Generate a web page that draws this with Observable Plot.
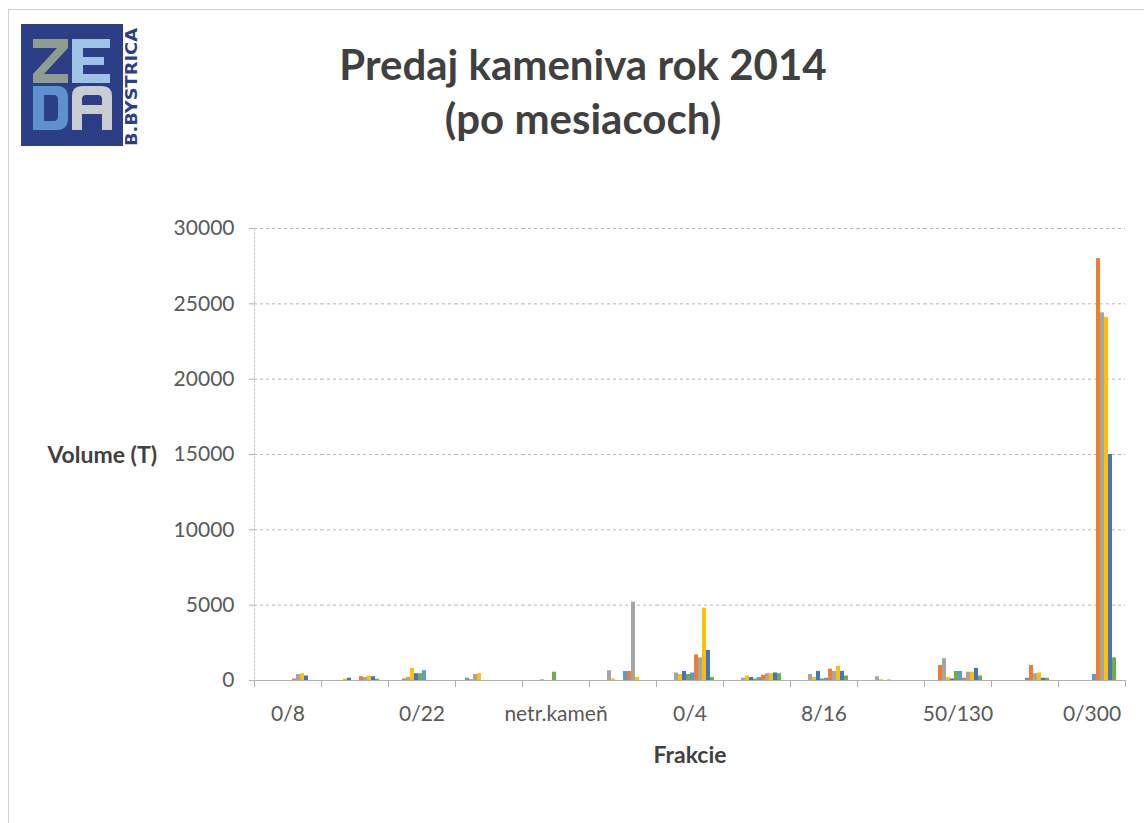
<!DOCTYPE html>
<html>
<head>
<meta charset="utf-8">
<script src="https://cdn.jsdelivr.net/npm/d3@7"></script>
<script src="https://cdn.jsdelivr.net/npm/@observablehq/plot@0.6"></script>
<style>
  html, body { margin: 0; padding: 0; background: #fff; }
  #page { position: relative; width: 1144px; height: 823px; overflow: hidden; background: #fff; font-family: Lato, "Open Sans", sans-serif; }
  #border { position: absolute; left: 8px; top: 9px; width: 1160px; height: 840px; border: 1px solid #d2d2d2; }
  #title { position: absolute; left: 11px; top: 37px; width: 1144px; text-align: center; font-weight: bold; font-size: 42px; line-height: 54px; color: #404040; }
  #ylabel { position: absolute; left: 0; width: 157px; top: 440px; text-align: right; font-weight: bold; font-size: 23px; color: #404040; }
  #xlabel { position: absolute; left: 590px; width: 200px; top: 740px; text-align: center; font-weight: bold; font-size: 23px; color: #404040; }
  #chart { position: absolute; left: 0; top: 200px; }
  #logo { position: absolute; left: 21px; top: 24px; }
</style>
</head>
<body>
<div id="page">
  <div id="border"></div>
  <svg id="logo" width="120" height="124" viewBox="0 0 120 124">
    <rect x="0" y="0" width="102" height="122" fill="#2c3f86"></rect>
    <!-- Z -->
    <path transform="translate(12,15)" fill="#8e9d90" d="M0,0 H35 V9 L11,35 H35 V44 H0 V35 L24,9 H0 Z"></path>
    <!-- E -->
    <path transform="translate(51,15)" fill="#9fc3e7" d="M0,0 H38 V9 H11 V18 H32 V26 H11 V35 H38 V44 H0 Z"></path>
    <!-- D -->
    <path transform="translate(12,62)" fill="#5f90d0" fill-rule="evenodd" d="M0,0 H24 Q35,0 35,12 V32 Q35,44 24,44 H0 Z M11,9 H21 Q25,9 25,14 V30 Q25,35 21,35 H11 Z"></path>
    <!-- A -->
    <path transform="translate(51,62)" fill="#c9cdd3" fill-rule="evenodd" d="M0,44 V10 Q0,0 10,0 H30 Q40,0 40,10 V44 H30 V28 H10 V44 Z M10,19 H30 V13 Q30,9 26,9 H14 Q10,9 10,13 Z"></path>
    <text transform="translate(116,122) rotate(-90)" x="0" y="0" font-family="DejaVu Sans Condensed" font-weight="bold" font-size="15" fill="#2c3f86" textLength="118" lengthAdjust="spacingAndGlyphs">B.BYSTRICA</text>
  </svg>
  <div id="title">Predaj kameniva rok 2014<br>(po mesiacoch)</div>
  <div id="ylabel">Volume (T)</div>
  <div id="xlabel">Frakcie</div>
  <div id="chart"></div>
</div>
<script>
// Categories (fractions); Excel shows every other label
const categories = ["0/8", "0/16", "0/22", "0/32", "netr.kameň", "0/63", "0/4", "4/8", "8/16", "16/32", "50/130", "32/63", "0/300"];
const shownCategories = categories.filter((d, i) => i % 2 === 0);

// Months (series)
const months = ["Január", "Február", "Marec", "Apríl", "Máj", "Jún", "Júl", "August", "September", "Október", "November", "December"];

// Values per month, one entry per category (tons)
const jan = [0, 0, 0, 150, 0, 0, 0, 0, 0, 0, 0, 0, 0];
const feb = [0, 0, 100, 50, 0, 0, 0, 0, 0, 0, 1000, 0, 0];
const mar = [0, 0, 200, 400, 50, 650, 500, 150, 400, 250, 1450, 0, 0];
const apr = [0, 100, 800, 450, 0, 100, 400, 300, 200, 50, 200, 0, 0];
const maj = [0, 150, 450, 0, 0, 0, 600, 200, 600, 0, 100, 0, 0];
const jun = [0, 0, 450, 0, 550, 0, 400, 100, 100, 30, 600, 0, 0];
const jul = [0, 0, 650, 0, 0, 600, 500, 200, 150, 0, 600, 150, 400];
const aug = [100, 250, 0, 0, 0, 600, 1700, 350, 750, 0, 150, 1000, 28000];
const sep = [400, 200, 0, 0, 0, 5200, 1500, 450, 600, 0, 550, 450, 24400];
const okt = [450, 300, 0, 0, 0, 200, 4800, 450, 950, 0, 550, 500, 24100];
const nov = [300, 250, 0, 0, 0, 0, 2000, 500, 600, 0, 800, 150, 15000];
const dec = [0, 80, 0, 0, 0, 0, 200, 450, 300, 0, 300, 150, 1500];
const series = [jan, feb, mar, apr, maj, jun, jul, aug, sep, okt, nov, dec];

const yTicks = [0, 5000, 10000, 15000, 20000, 25000, 30000];
const colors = ["#5B9BD5", "#ED7D31", "#A5A5A5", "#FFC000", "#4472C4", "#70AD47",
                "#5B9BD5", "#ED7D31", "#A5A5A5", "#FFC000", "#4472C4", "#70AD47"];

const data = [];
months.forEach((m, mi) => {
  categories.forEach((c, ci) => {
    data.push({frakcia: c, mesiac: m, value: series[mi][ci]});
  });
});

const chart = Plot.plot({
  width: 1144,
  height: 580,
  marginLeft: 252,
  marginRight: 17,
  marginTop: 28,
  marginBottom: 100,
  style: {fontFamily: "Lato, 'Open Sans', sans-serif", fontSize: "21px", color: "#595959", background: "transparent"},
  fx: {domain: categories, padding: 0, axis: null, label: null},
  x: {domain: months, paddingInner: 0, paddingOuter: 0.85, axis: null},
  y: {domain: [0, 30000], axis: null},
  color: {domain: months, range: colors},
  marks: [
    Plot.gridY(yTicks.slice(1), {stroke: "#b5b5b5", strokeOpacity: 1, strokeDasharray: "3,3"}),
    Plot.barY(data, {fx: "frakcia", x: "mesiac", y: "value", fill: "mesiac"}),
    Plot.ruleY([0], {stroke: "#b0b0b0"}),
    Plot.axisY(yTicks, {tickSize: 5, tickPadding: 15, fontSize: 21, label: null, tickFormat: d => String(d), stroke: "#b0b0b0", fill: "#595959"}),
    Plot.frame({anchor: "left", facetAnchor: "left", stroke: "#c8c8c8", strokeDasharray: "2,2"}),
    Plot.frame({anchor: "left", stroke: "#b0b0b0", insetTop: 446, dy: 6}),
    Plot.frame({anchor: "right", facetAnchor: "right", stroke: "#b0b0b0", insetTop: 446, dy: 6}),
    Plot.axisFx({ticks: shownCategories, anchor: "bottom", tickSize: 0, tickPadding: 26, fontSize: 21, label: null, fill: "#595959"})
  ]
});
document.getElementById("chart").appendChild(chart);
</script>
</body>
</html>
